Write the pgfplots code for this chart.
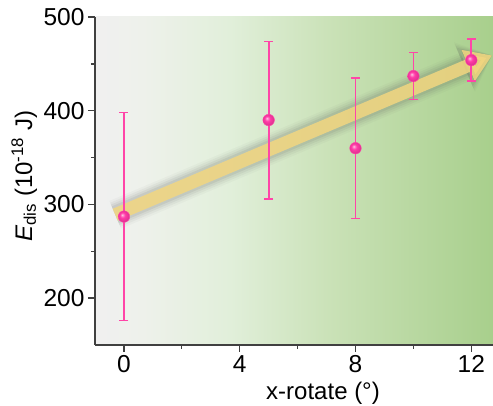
\documentclass[border=0pt]{standalone}
\usepackage{pgfplots}
\pgfplotsset{compat=1.18}
\usepackage{fontspec}
\setmainfont{Liberation Sans}
\usetikzlibrary{arrows.meta}

\definecolor{axgray}{HTML}{404040}
\definecolor{pinkbar}{HTML}{FF45A8}
\definecolor{pinkball}{HTML}{FF3AA6}
\definecolor{arrowtan}{HTML}{F2D680}
\definecolor{bgA}{HTML}{F0F0F0}
\definecolor{bgB}{HTML}{EEF1EB}
\definecolor{bgC}{HTML}{E1EFDA}
\definecolor{bgD}{HTML}{C9E1B6}
\definecolor{bgE}{HTML}{A8CF8C}

% visible part of a tikz shading is 25bp..75bp
\pgfdeclarehorizontalshading{bgshade}{100bp}{
  color(0bp)=(bgA); color(25bp)=(bgA); color(31bp)=(bgB);
  color(42bp)=(bgC); color(55bp)=(bgD); color(75bp)=(bgE); color(100bp)=(bgE)}

% brighter ball shading for the markers
\makeatletter
\pgfdeclareradialshading[tikz@ball]{ball}{\pgfqpoint{-8bp}{8bp}}{%
  color(0bp)=(tikz@ball!25!white); color(5bp)=(tikz@ball!65!white);
  color(12bp)=(tikz@ball); color(25bp)=(tikz@ball!88!black);
  color(50bp)=(tikz@ball!88!black)}
\makeatother

\pgfplotsset{
  shadowarrow/.style 2 args={gray!70!black, opacity=#2, line width=#1,
    -{Triangle[width=#1+22pt, length=30pt]}, forget plot}
}

\begin{document}
\begin{tikzpicture}
\begin{axis}[
  scale only axis, width=398pt, height=328pt,
  xmin=-1, xmax=12.75, ymin=150, ymax=500,
  axis lines=left, axis line style={-, axgray, line width=1.5pt},
  axis background/.style={shading=bgshade},
  xtick={0,4,8,12}, minor xtick={2,6,10},
  ytick={200,300,400,500}, minor ytick={250,350,450},
  tick align=outside,
  major tick length=7pt, minor tick length=4pt,
  every tick/.style={axgray, line width=1.3pt},
  tick label style={font=\fontsize{24.5}{28}\selectfont},
  /pgf/number format/assume math mode=true,
  label style={font=\fontsize{24}{28}\selectfont},
  xlabel={x-rotate (°)},
  ylabel={\textit{E}\textsubscript{dis} (10\textsuperscript{-18} J)},
  xlabel style={at={(axis description cs:0.573,-0.146)}, anchor=center},
  ylabel style={at={(axis description cs:-0.178,0.515)}, anchor=center},
]
\coordinate (bl) at (rel axis cs:0,0);
\coordinate (tr) at (rel axis cs:1,1);

% soft shadow of the trend arrow
\addplot[shadowarrow={30pt}{0.04}] coordinates {(-0.3,289) (12.72,459)};
\addplot[shadowarrow={26pt}{0.06}] coordinates {(-0.3,289) (12.72,459)};
\addplot[shadowarrow={22pt}{0.08}] coordinates {(-0.3,289) (12.72,459)};
\addplot[shadowarrow={18pt}{0.10}] coordinates {(-0.3,289) (12.72,459)};
% trend arrow
\addplot[arrowtan, opacity=0.85, line width=13pt,
  -{Triangle[width=32pt, length=26pt]}, forget plot]
  coordinates {(-0.3,289) (12.72,459)};

% data with error bars
\addplot[pinkbar, only marks, mark=ball, mark size=5.8pt, ball color=pinkball,
  mark options={draw=none},
  error bars/.cd, y dir=both, y explicit,
  error bar style={pinkbar, line width=1.7pt},
  error mark options={rotate=90, pinkbar, mark size=4.5pt, line width=1.7pt}]
  coordinates {
    (0,287) +- (0,111)
    (5,390) +- (0,84)
    (8,360) +- (0,75)
    (10,437) +- (0,25)
    (12,454) +- (0,22.5)
  };
\end{axis}
\pgfresetboundingbox
\path ([shift={(-95pt,-61pt)}]bl) rectangle ([shift={(0pt,17pt)}]tr);
\end{tikzpicture}
\end{document}
